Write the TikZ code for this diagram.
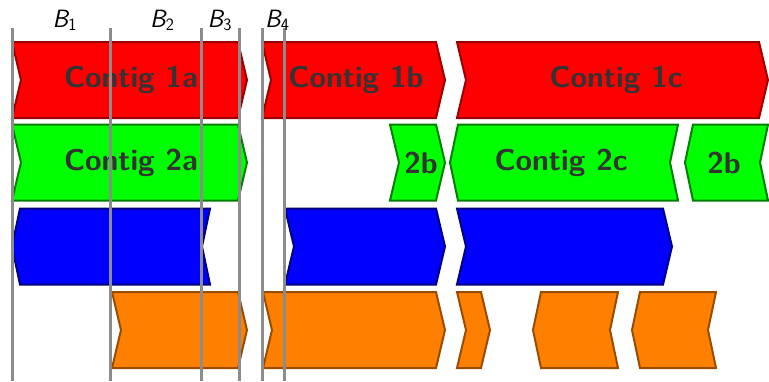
\documentclass[tikz,border=0pt]{standalone}
\begin{document}
\begin{tikzpicture}[x=1pt,y=-1pt,
  contig/.style={line width=2pt, line join=miter},
  redc/.style={contig, fill=red, draw=red!60!black},
  greenc/.style={contig, fill=green, draw=green!50!black},
  bluec/.style={contig, fill=blue, draw=blue!50!black},
  orangec/.style={contig, fill=orange, draw=orange!60!black},
  lbl/.style={text=black!80, font=\fontsize{30}{36}\selectfont\sffamily\bfseries, inner sep=0pt},
  bline/.style={draw=black!45, line width=3pt},
  blbl/.style={anchor=base west, inner sep=0pt, font=\fontsize{25}{30}\selectfont\sffamily\slshape}]
\newcommand\fwdc[4]{\draw[#1] (#2,#4-38) -- (#3,#4-38) -- (#3+9,#4) -- (#3,#4+38) -- (#2,#4+38) -- (#2+9,#4) -- cycle;}
\newcommand\bwdc[4]{\draw[#1] (#2+8,#4-38) -- (#3,#4-38) -- (#3-8,#4) -- (#3,#4+38) -- (#2+8,#4+38) -- (#2,#4) -- cycle;}
\useasboundingbox (0,0) rectangle (769,381);
% red row
\fwdc{redc}{12}{238}{80}
\fwdc{redc}{262}{436}{80}
\fwdc{redc}{457}{759}{80}
% green row
\fwdc{greenc}{12}{238}{162.5}
\fwdc{greenc}{390}{436}{162.5}
\bwdc{greenc}{450}{678}{162.5}
\bwdc{greenc}{685}{768}{162.5}
% blue row
\bwdc{bluec}{12}{210}{246.5}
\fwdc{bluec}{285}{436}{246.5}
\fwdc{bluec}{457}{663}{246.5}
% orange row
\fwdc{orangec}{112}{238}{330}
\fwdc{orangec}{263}{436}{330}
\fwdc{orangec}{457}{481}{330}
\bwdc{orangec}{533}{618}{330}
\bwdc{orangec}{632}{716}{330}
% labels
\node[lbl] (c1a) at (131,80) {Contig 1a};
\node[lbl] (c1b) at (356,80) {Contig 1b};
\node[lbl] (c1c) at (616,80) {Contig 1c};
\node[lbl] (c2a) at (131,162.5) {Contig 2a};
\node[lbl] (c2b1) at (421,162.5) {2b};
\node[lbl] (c2c) at (561,162.5) {Contig 2c};
\node[lbl] (c2b2) at (724,162.5) {2b};
% boundary lines
\coordinate (t1) at (12,28); \coordinate (e1) at (12,381);
\coordinate (t2) at (110,28); \coordinate (e2) at (110,381);
\coordinate (t3) at (201,28); \coordinate (e3) at (201,381);
\coordinate (t4) at (239,28); \coordinate (e4) at (239,381);
\coordinate (t5) at (262,28); \coordinate (e5) at (262,381);
\coordinate (t6) at (284,28); \coordinate (e6) at (284,381);
\foreach \i in {1,...,6} {\draw[bline] (t\i) -- (e\i);}
\node[blbl] (b1) at (52.5,27) {B$_{\mathsf{1}}$};
\node[blbl] (b2) at (150,27) {B$_{\mathsf{2}}$};
\node[blbl] (b3) at (207.5,27) {B$_{\mathsf{3}}$};
\node[blbl] (b4) at (265,27) {B$_{\mathsf{4}}$};
\end{tikzpicture}
\end{document}
